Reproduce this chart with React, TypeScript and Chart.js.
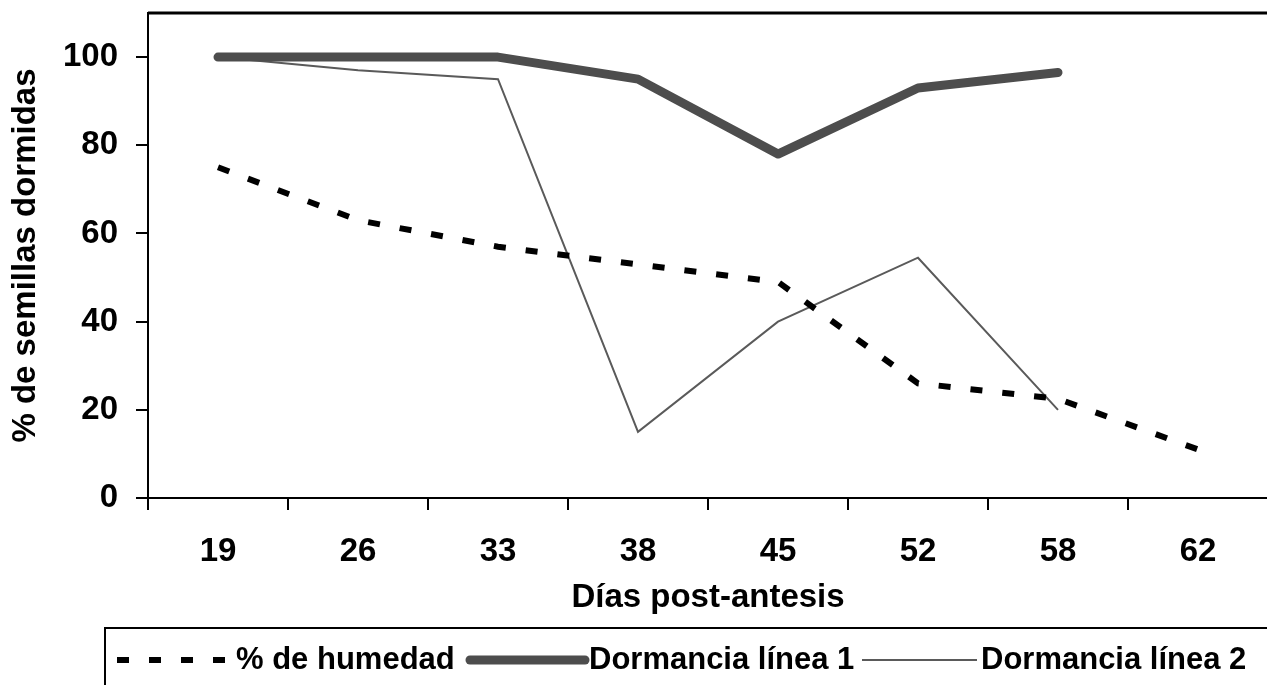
import React, { useEffect, useRef } from "react";
import { Chart, registerables } from "chart.js";

Chart.register(...registerables);

const categories = ["19", "26", "33", "38", "45", "52", "58", "62"];
const humedad = [75, 63, 57, 53, 49, 26, 22.5, 11];
const dormancia1 = [100, 100, 100, 95, 78, 93, 96.5, null];
const dormancia2 = [100, 97, 95, 15, 40, 54.5, 20, null];
const yTickValues = [0, 20, 40, 60, 80, 100];
const seriesLabels = ["% de humedad", "Dormancia línea 1", "Dormancia línea 2"];
const xTitle = "Días post-antesis";
const yTitle = "% de semillas dormidas";

const FONT = "'Liberation Sans', Arial, sans-serif";

const framePlugin = {
  id: "frameTop",
  afterDraw(chart: any) {
    const { ctx, chartArea } = chart;
    ctx.save();
    ctx.strokeStyle = "#000";
    ctx.lineWidth = 3;
    ctx.beginPath();
    ctx.moveTo(chartArea.left, chartArea.top);
    ctx.lineTo(chartArea.right, chartArea.top);
    ctx.stroke();
    ctx.restore();
  },
};

const boxLegendPlugin = {
  id: "boxLegend",
  afterDraw(chart: any, _args: any, opts: any) {
    const { ctx } = chart;
    const top = chart.scales.x.bottom;
    ctx.save();
    ctx.strokeStyle = "#000";
    ctx.lineWidth = 2;
    ctx.beginPath();
    ctx.moveTo(opts.boxLeft, chart.height + 5);
    ctx.lineTo(opts.boxLeft, top);
    ctx.lineTo(chart.width + 5, top);
    ctx.stroke();
    const cy = top + opts.rowOffset;
    ctx.font = `bold ${opts.fontSize}px ${FONT}`;
    ctx.textBaseline = "middle";
    ctx.textAlign = "left";
    chart.data.datasets.forEach((ds: any, i: number) => {
      const x = opts.starts[i];
      ctx.save();
      ctx.strokeStyle = ds.borderColor;
      ctx.lineWidth = ds.borderWidth;
      ctx.lineCap = ds.borderCapStyle || "butt";
      ctx.setLineDash(ds.borderDash || []);
      ctx.beginPath();
      ctx.moveTo(x, cy);
      ctx.lineTo(x + opts.sampleLen, cy);
      ctx.stroke();
      ctx.restore();
      ctx.fillStyle = "#000";
      ctx.fillText(ds.label, x + opts.sampleLen + opts.textGap, cy);
    });
    ctx.restore();
  },
};

export default function App() {
  const ref = useRef<HTMLCanvasElement>(null);

  useEffect(() => {
    if (!ref.current) return;
    const tickFont = { family: FONT, size: 33, weight: "bold" as const };
    const chart = new Chart(ref.current, {
      type: "line",
      data: {
        labels: categories,
        datasets: [
          {
            label: seriesLabels[0],
            data: humedad,
            borderColor: "#000",
            borderWidth: 6,
            borderDash: [12, 20],
            borderCapStyle: "butt",
            pointRadius: 0,
            tension: 0,
          },
          {
            label: seriesLabels[1],
            data: dormancia1,
            borderColor: "#4d4d4d",
            borderWidth: 9,
            borderCapStyle: "round",
            borderJoinStyle: "round",
            pointRadius: 0,
            tension: 0,
          },
          {
            label: seriesLabels[2],
            data: dormancia2,
            borderColor: "#5a5a5a",
            borderWidth: 2,
            pointRadius: 0,
            tension: 0,
          },
        ],
      },
      options: {
        responsive: false,
        animation: false,
        devicePixelRatio: 1,
        layout: { padding: { left: 0, right: 32, top: 13, bottom: 57 } },
        plugins: {
          legend: { display: false },
          tooltip: { enabled: false },
          boxLegend: {
            boxLeft: 105,
            rowOffset: 32,
            starts: [117, 470, 862],
            sampleLen: 115,
            textGap: 4,
            fontSize: 31,
          },
        } as any,
        scales: {
          x: {
            offset: true,
            grid: {
              offset: true,
              drawOnChartArea: false,
              drawTicks: true,
              tickLength: 12,
              color: "#000",
              lineWidth: 2,
            },
            border: { display: true, color: "#000", width: 2 },
            ticks: { color: "#000", font: tickFont, padding: 22, maxRotation: 0 },
            title: {
              display: true,
              text: xTitle,
              color: "#000",
              font: tickFont,
              padding: { top: 0, bottom: 10 },
            },
            afterFit: (s: any) => {
              s.height = 130;
              s.paddingLeft = 0;
              s.paddingRight = 0;
            },
          },
          y: {
            min: 0,
            max: 110,
            afterBuildTicks: (s: any) => {
              s.ticks = yTickValues.map((v) => ({ value: v }));
            },
            grid: {
              drawOnChartArea: false,
              drawTicks: true,
              tickLength: 12,
              color: "#000",
              lineWidth: 2,
            },
            border: { display: true, color: "#000", width: 2 },
            ticks: { color: "#000", font: tickFont, padding: 18 },
            title: {
              display: true,
              text: yTitle,
              color: "#000",
              font: tickFont,
              padding: { top: 6, bottom: 0 },
            },
            afterFit: (s: any) => {
              s.width = 148;
              s.paddingTop = 0;
              s.paddingBottom = 0;
            },
          },
        },
      },
      plugins: [framePlugin, boxLegendPlugin],
    });
    return () => chart.destroy();
  }, []);

  return (
    <div
      style={{
        position: "fixed",
        left: 0,
        top: 0,
        width: 1300,
        height: 685,
        overflow: "hidden",
        background: "#fff",
      }}
    >
      <canvas ref={ref} width={1300} height={685} style={{ display: "block" }} />
    </div>
  );
}
